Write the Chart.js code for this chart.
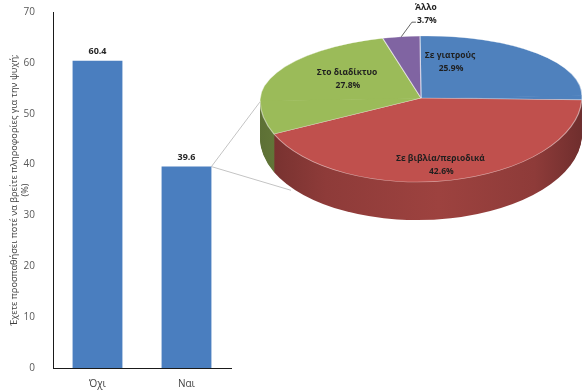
<!DOCTYPE html>
<html><head><meta charset="utf-8">
<script src="https://cdn.jsdelivr.net/npm/chart.js@4.4.1/dist/chart.umd.min.js"></script>
<style>
html,body{margin:0;padding:0;background:#fff;}
#wrap{position:relative;width:585px;height:392px;overflow:hidden;}
#wrap canvas{position:absolute;left:0;top:0;}
</style></head><body>
<div id="wrap"><canvas id="bar" width="585" height="392"></canvas><canvas id="pie" width="585" height="392"></canvas></div>
<script>
// ---- data ----
const barCategories = ['Όχι', 'Ναι'];
const barValues = [60.4, 39.6];
const yTickMin = 0, yTickMax = 70, yTickStep = 10;
const yAxisTitle = ['Έχετε προσπαθήσει ποτέ να βρείτε πληροφορίες για την ψυχή;', '(%)'];
const pieCategories = ['Σε γιατρούς', 'Σε βιβλία/περιοδικά', 'Στο διαδίκτυο', 'Άλλο'];
const pieValues = [25.9, 42.6, 27.8, 3.7];

// ---- styling / layout ----
const FONT = "'Open Sans', 'Noto Sans', sans-serif";
const topColors = ['#4f81bd', '#c0504d', '#9bbb59', '#8064a2'];
// pseudo-perspective ellipse: back half flatter than front half
const PIE = { cx: 421, cy: 98, rx: 161, ryBack: 62, ryFront: 84, rot: -1 * Math.PI / 180, depth: 38 };
// label centres relative to the pie centre, in radius units
const pieLabelPos = [
  { u: 0.18, v: -0.58 },
  { u: 0.12, v: 0.80 },
  { u: -0.46, v: -0.31 },
  { u: 0.03, v: -1.36 }
];

function ellPoint(angle, frac, dy) {
  const ry = Math.sin(angle) >= 0 ? PIE.ryFront : PIE.ryBack;
  const px = frac * PIE.rx * Math.cos(angle), py = frac * ry * Math.sin(angle);
  const c = Math.cos(PIE.rot), s = Math.sin(PIE.rot);
  return { x: PIE.cx + px * c - py * s, y: PIE.cy + (dy || 0) + px * s + py * c };
}
function labelCentre(lp) {
  const ry = lp.v >= 0 ? PIE.ryFront : PIE.ryBack;
  return { x: PIE.cx + lp.u * PIE.rx, y: PIE.cy + lp.v * ry };
}

function shade(hex, f) {
  const n = parseInt(hex.slice(1), 16);
  let r = (n >> 16) & 255, g = (n >> 8) & 255, b = n & 255;
  r = Math.round(r * f); g = Math.round(g * f); b = Math.round(b * f);
  return 'rgb(' + r + ',' + g + ',' + b + ')';
}

// ---- bar chart ----
const barLabelPlugin = {
  id: 'barLabels',
  afterDatasetsDraw(chart) {
    const ctx = chart.ctx;
    const meta = chart.getDatasetMeta(0);
    ctx.save();
    ctx.font = 'bold 9px ' + FONT;
    ctx.fillStyle = '#262626';
    ctx.textAlign = 'center';
    ctx.textBaseline = 'middle';
    meta.data.forEach((bar, i) => {
      ctx.fillText(barValues[i].toFixed(1), bar.x, bar.y - 9);
    });
    ctx.restore();
  }
};

const connectorPlugin = {
  id: 'connector',
  beforeDatasetsDraw(chart) {
    const ctx = chart.ctx;
    const bar = chart.getDatasetMeta(0).data[1];
    const sx = bar.x + bar.width / 2, sy = bar.y;
    const p1 = ellPoint(181 * Math.PI / 180, 0.99, 0);
    const p2 = ellPoint(146 * Math.PI / 180, 0.98, PIE.depth + 6);
    ctx.save();
    ctx.strokeStyle = '#c4c4c4';
    ctx.lineWidth = 1;
    ctx.beginPath();
    ctx.moveTo(sx, sy); ctx.lineTo(p1.x, p1.y);
    ctx.moveTo(sx, sy); ctx.lineTo(p2.x, p2.y);
    ctx.stroke();
    ctx.restore();
  }
};

new Chart(document.getElementById('bar'), {
  type: 'bar',
  data: {
    labels: barCategories,
    datasets: [{ data: barValues, backgroundColor: '#4a7ebf', categoryPercentage: 1, barPercentage: 0.56 }]
  },
  options: {
    responsive: false,
    animation: false,
    events: [],
    layout: { padding: { top: 12, right: 354, bottom: 0, left: 0 } },
    plugins: { legend: { display: false }, tooltip: { enabled: false } },
    scales: {
      x: {
        grid: { display: false, drawTicks: false },
        border: { display: true, color: '#1a1a1a', width: 1 },
        ticks: { color: '#404040', font: { family: FONT, size: 10 }, padding: 10 },
        afterFit(scale) { scale.height = 24; }
      },
      y: {
        min: yTickMin, max: yTickMax,
        grid: { display: false, drawTicks: false },
        border: { display: true, color: '#1a1a1a', width: 1 },
        ticks: { stepSize: yTickStep, color: '#595959', font: { family: FONT, size: 10 }, padding: 18 },
        title: { display: true, text: yAxisTitle, color: '#404040', font: { family: FONT, size: 9.2 }, padding: { top: 9, bottom: 0 } },
        afterFit(scale) { scale.width = 53; scale.paddingTop = 0; scale.paddingBottom = 0; }
      }
    }
  },
  plugins: [connectorPlugin, barLabelPlugin]
});

// ---- 3D pie ----
function drawHalf(ctx, meta, front, dy, optFn) {
  const a0 = meta.data[0];
  const R = a0.outerRadius, ccx = a0.x, ccy = a0.y;
  ctx.save();
  ctx.translate(PIE.cx, PIE.cy + dy);
  ctx.rotate(PIE.rot);
  ctx.scale(PIE.rx / R, (front ? PIE.ryFront : PIE.ryBack) / R);
  ctx.translate(-ccx, -ccy);
  ctx.beginPath();
  if (front) ctx.rect(ccx - R - 10, ccy, 2 * R + 20, R + 10);
  else ctx.rect(ccx - R - 10, ccy - R - 10, 2 * R + 20, R + 12);
  ctx.clip();
  meta.data.forEach((arc, i) => {
    if (optFn) {
      const o = arc.options;
      arc.options = Object.assign({}, o, optFn(i, ctx, ccx, R));
      arc.draw(ctx);
      arc.options = o;
    } else {
      arc.draw(ctx);
    }
  });
  ctx.restore();
}

const pie3dPlugin = {
  id: 'pie3d',
  beforeDatasetsDraw(chart) {
    const ctx = chart.ctx;
    const meta = chart.getDatasetMeta(0);
    let grads = null;
    const sideOpt = (i, c, ccx, R) => {
      if (!grads) {
        grads = topColors.map((col) => {
          const g = c.createLinearGradient(ccx - R, 0, ccx + R, 0);
          g.addColorStop(0, shade(col, 0.6));
          g.addColorStop(0.2, shade(col, 0.74));
          g.addColorStop(0.55, shade(col, 0.82));
          g.addColorStop(0.85, shade(col, 0.74));
          g.addColorStop(1, shade(col, 0.58));
          return g;
        });
      }
      return { backgroundColor: grads[i], borderColor: grads[i], borderWidth: 0 };
    };
    for (let d = PIE.depth; d >= 1; d--) drawHalf(ctx, meta, true, d, sideOpt);
    drawHalf(ctx, meta, false, 0, null);
    drawHalf(ctx, meta, true, 0, null);
    return false; // top faces drawn above from the library's own arc elements
  },
  afterDraw(chart) {
    const ctx = chart.ctx;
    const meta = chart.getDatasetMeta(0);
    ctx.save();
    ctx.font = 'bold 8.5px ' + FONT;
    ctx.fillStyle = '#1f1f1f';
    ctx.textAlign = 'center';
    ctx.textBaseline = 'middle';
    meta.data.forEach((arc, i) => {
      const lp = pieLabelPos[i];
      const p = labelCentre(lp);
      const pct = pieValues[i].toFixed(1) + '%';
      ctx.fillText(pieCategories[i], p.x, p.y - 6.5);
      ctx.fillText(pct, p.x + 1, p.y + 6.5);
      if (lp.v < -1) {
        const mid = (arc.startAngle + arc.endAngle) / 2;
        const s = ellPoint(mid, 1.0, 0);
        const w = ctx.measureText(pct).width;
        const ex = p.x + 1 - w / 2 - 1, ey = p.y + 6.5 + 2;
        ctx.strokeStyle = '#404040';
        ctx.lineWidth = 0.8;
        ctx.beginPath();
        ctx.moveTo(s.x, s.y);
        ctx.lineTo(ex - 4, ey);
        ctx.lineTo(ex, ey);
        ctx.stroke();
      }
    });
    ctx.restore();
  }
};

new Chart(document.getElementById('pie'), {
  type: 'pie',
  data: {
    labels: pieCategories,
    datasets: [{ data: pieValues, backgroundColor: topColors, borderColor: 'rgba(255,255,255,0.5)', borderWidth: 1.5 }]
  },
  options: {
    responsive: false,
    animation: false,
    events: [],
    plugins: { legend: { display: false }, tooltip: { enabled: false } }
  },
  plugins: [pie3dPlugin]
});
</script>
</body></html>
